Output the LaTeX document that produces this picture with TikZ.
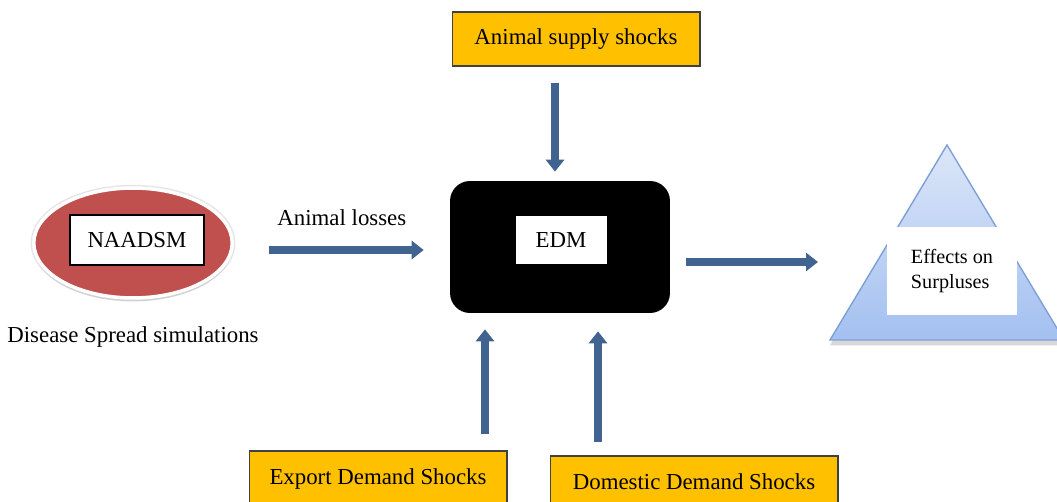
\documentclass[tikz,border=0pt]{standalone}
\usepackage{fontspec}
\setmainfont{Liberation Serif}
\usetikzlibrary{arrows.meta, positioning, shapes.geometric, shadows}
\definecolor{shockyellow}{HTML}{FFC000}
\definecolor{flowblue}{HTML}{41638F}
\definecolor{diseasered}{HTML}{C0504D}
\definecolor{surplustop}{HTML}{DCE6F8}
\definecolor{surplusbot}{HTML}{A3C0F0}
\definecolor{surplusline}{HTML}{7EA0D6}
\begin{document}
\begin{tikzpicture}[x=0.02cm, y=-0.02cm,
    shock/.style={draw=black!75, fill=shockyellow, line width=0.6pt,
      inner sep=0pt, font=\fontsize{13}{15}\selectfont},
    flow/.style={draw=flowblue, line width=4pt,
      -{Triangle[width=0.36cm,length=0.24cm]}},
    whitebox/.style={fill=white, inner sep=0pt},
    lab/.style={font=\fontsize{13}{15}\selectfont}
  ]
    \clip (0,0) rectangle (1057,502);
    \fill[white] (0,0) rectangle (1057,502);
    \node[shock, minimum width=4.96cm, minimum height=1.08cm] (supply)
      at (576,39) {Animal supply shocks\hspace{0.3cm}};
    \node[shock, minimum width=5.16cm, minimum height=1.12cm] (export)
      at (378,479) {Export Demand Shocks\hspace{0.2cm}};
    \node[shock, minimum width=5.76cm, minimum height=1.04cm] (domestic)
      at (694,482) {Domestic Demand Shocks\hspace{0.3cm}};
    \node[fill=black, rounded corners=0.4cm, minimum width=4.4cm,
      minimum height=2.64cm] (edm) at (560,247) {};
    \node[whitebox, lab, minimum width=1.82cm, minimum height=0.96cm]
      (edmlab) at (561,240) {EDM};
    \node[ellipse, fill=diseasered, draw=white, line width=2pt,
      preaction={draw=black!10, line width=3.6pt},
      minimum width=3.97cm, minimum height=2.2cm, inner sep=0pt,
      drop shadow={opacity=0.2, shadow xshift=0pt, shadow yshift=-2pt}]
      (disease) at (133,243) {};
    \node[whitebox, lab, draw=black, line width=0.8pt,
      minimum width=2.68cm, minimum height=1.0cm] (naadsm)
      at (137,240) {NAADSM};
    \node[lab] (sim) at (133,337) {Disease Spread simulations};
    \path[draw=surplusline, line width=0.8pt, top color=surplustop,
      bottom color=surplusbot,
      drop shadow={opacity=0.3, shadow xshift=0pt, shadow yshift=-3pt}]
      (947,145) -- (1064,340) -- (830,340) -- cycle;
    \node[whitebox, align=left, minimum width=2.6cm, minimum height=1.76cm,
      font=\fontsize{11.5}{14}\selectfont] (effects)
      at (952,271) {Effects on\\Surpluses};
    \coordinate (effin) at (818,262);
    \draw[flow, shorten <=0.32cm, shorten >=0.18cm]
      ([shift={(-21,0)}]supply.south) -- ([shift={(-5,0)}]edm.north);
    \draw[flow, shorten <=0.7cm, shorten >=0.52cm]
      ([shift={(0,7)}]disease.east) -- node[lab, above=0.3cm] (losses)
      {Animal losses} ([shift={(0,3)}]edm.west);
    \draw[flow, shorten <=0.32cm] ([shift={(0,15)}]edm.east) -- (effin);
    \draw[flow, shorten <=0.32cm, shorten >=0.32cm]
      ([shift={(107,0)}]export.north) -- ([shift={(-75,0)}]edm.south);
    \draw[flow, shorten <=0.26cm, shorten >=0.36cm]
      ([shift={(-96,0)}]domestic.north) -- ([shift={(38,0)}]edm.south);
  \end{tikzpicture}
\end{document}
